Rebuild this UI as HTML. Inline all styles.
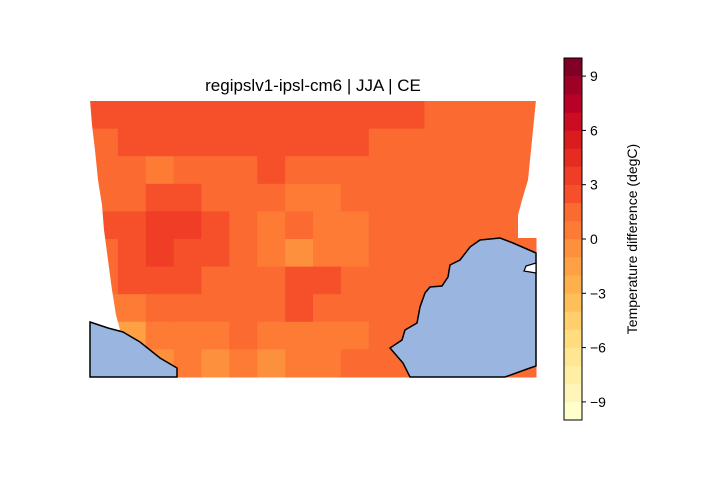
<!DOCTYPE html>
<html><head><meta charset="utf-8"><style>
body{margin:0;background:#fff;}
svg{display:block;font-family:"Liberation Sans","DejaVu Sans",sans-serif;}
</style></head><body>
<svg id="chart" width="720" height="480" viewBox="0 0 720 480">
<text x="313" y="91" font-size="17" text-anchor="middle">regipslv1-ipsl-cm6 | JJA | CE</text>
<g id="map"></g>
<g id="cbar"></g>
<text transform="translate(637,239) rotate(-90)" font-size="14" text-anchor="middle">Temperature difference (degC)</text>
</svg>
<script>
const gridValues = [
 [2,2,2,2,2,2,2,2,2,2,2,2,1,1,1,1],
 [1,2,2,2,2,2,2,2,2,2,1,1,1,1,1,1],
 [1,1,0,1,1,1,2,1,1,1,1,1,1,1,1,1],
 [1,1,2,2,1,1,1,0,0,1,1,1,1,1,1,1],
 [2,2,3,3,2,1,0,1,0,0,1,1,1,1,1,1],
 [1,2,3,2,2,1,0,-1,0,0,1,1,1,1,1,1],
 [1,2,2,2,1,1,1,2,2,1,1,1,1,1,1,1],
 [0,0,1,1,1,1,1,2,1,1,1,1,1,1,1,1],
 [-1,-2,0,0,0,1,0,0,0,0,1,1,1,1,1,1],
 [-2,-3,-1,0,-1,0,-1,0,0,1,1,1,1,1,1,1]
];
const cbTicks = [-9,-6,-3,0,3,6,9];
const palette = ["#ffffcc","#fff5b8","#ffefa5","#fee692","#fedc7f","#fecf6c","#febf5a","#feb04c","#fea145","#fd903d","#fd7b35","#fb6a30","#f5502a","#f03e26","#e62c21","#db1c1e","#cc0c22","#b90026","#9e0026","#800026"];
const vmin=-10, vmax=10;
const NS="http://www.w3.org/2000/svg";
function mk(t,a,p){const e=document.createElementNS(NS,t);for(const k in a)e.setAttribute(k,a[k]);p.appendChild(e);return e;}
function colorOf(v){let i=Math.floor(v-vmin);i=Math.max(0,Math.min(palette.length-1,i));return palette[i];}
const mx0=90,mx1=536,my0=101,my1=377;
const rows=gridValues.length, cols=gridValues[0].length;
const xS=c=>mx0+c*(mx1-mx0)/cols, yS=r=>my0+r*(my1-my0)/rows;
const map=document.getElementById('map');
gridValues.forEach((row,r)=>row.forEach((v,c)=>{
 const e=mk('rect',{x:xS(c),y:yS(r),width:(mx1-mx0)/cols+0.5,height:(my1-my0)/rows+0.5,fill:colorOf(v)},map);
 
 
}));
let m=mk('polygon',{points:"89,100 90,100 92,125 95,150 98,180 102,205 104,230 108,260 112,290 116,315 120,330 89,330",fill:"#fff"},map);

m=mk('polygon',{points:"537,100 536,100 532,140 528,180 522,200 518,215 518,238 537,238",fill:"#fff"},map);

let s=mk('polygon',{points:"536,253 513,243 500,238 480,240 470,247 460,260 450,265 448,277 442,286 430,287 425,293 420,307 417,323 405,330 402,340 390,348 403,363 410,377 505,377 530,368 536,366",fill:"#9ab6e0",stroke:"#000","stroke-width":"1.5"},map);

s=mk('polygon',{points:"90,322 108,328 123,332 140,342 160,358 177,368 177,377 90,377",fill:"#9ab6e0",stroke:"#000","stroke-width":"1.5"},map);

s=mk('polygon',{points:"536,263 526,266 524,271 536,273",fill:"#fff",stroke:"#000","stroke-width":"1.2"},map);

const cb=document.getElementById('cbar');
const cx=564,cw=18,cy0=58,cy1=420;
const cyS=v=>cy1-(v-vmin)/(vmax-vmin)*(cy1-cy0);
palette.forEach((col,i)=>{
 const e=mk('rect',{x:cx,y:cyS(vmin+i+1),width:cw,height:cyS(vmin+i)-cyS(vmin+i+1)+0.3,fill:col},cb);
 
 
});
mk('rect',{x:cx,y:cy0,width:cw,height:cy1-cy0,fill:"none",stroke:"#000","stroke-width":"1"},cb);
cbTicks.forEach(t=>{
 const y=cyS(t);
 mk('line',{x1:cx+cw,x2:cx+cw+4,y1:y,y2:y,stroke:"#000"},cb);
 const tx=mk('text',{x:cx+cw+8,y:y+5,"font-size":"14"},cb);
 tx.textContent=t<0?"\u2212"+Math.abs(t):String(t);
 
 
});
</script>
</body></html>
